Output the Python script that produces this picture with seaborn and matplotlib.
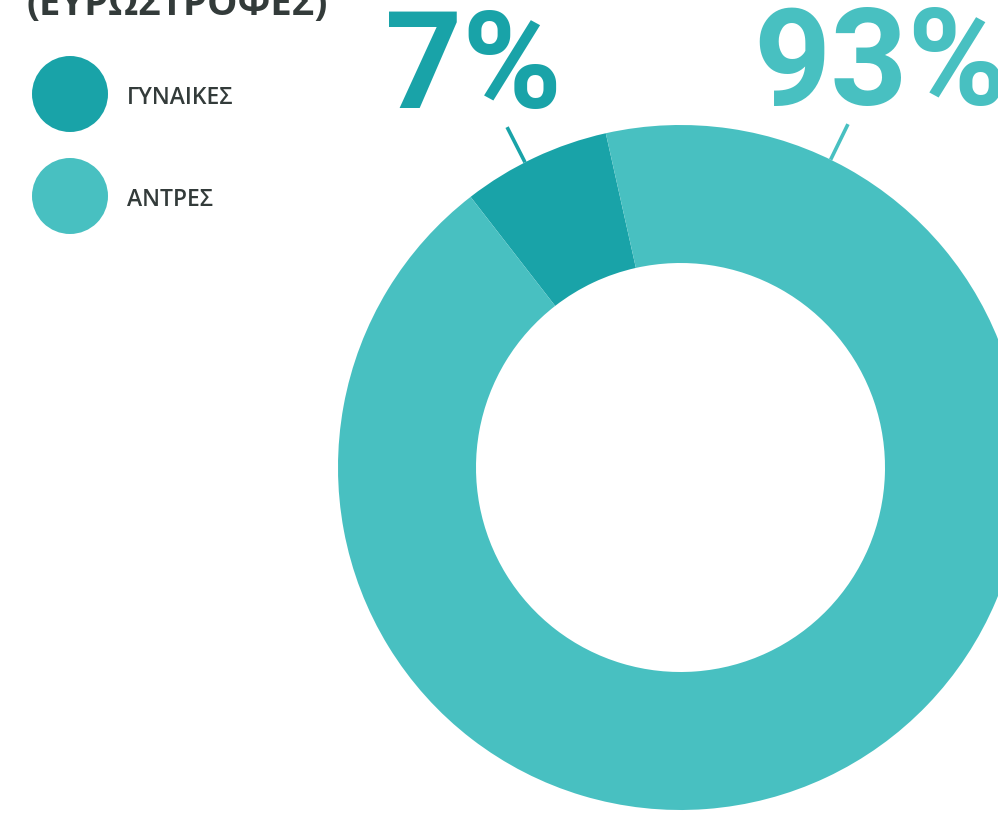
import matplotlib.pyplot as plt
import numpy as np
import seaborn as sns
from matplotlib.patches import Circle

# data
categories = ["ΓΥΝΑΙΚΕΣ", "ΑΝΤΡΕΣ"]
shares = [7, 93]
value_labels = ["7%", "93%"]
title = "(ΕΥΡΩΣΤΡΟΦΕΣ)"

# styling
colors = sns.color_palette(["#19A3A8", "#48C0C1"])
text_color = "#333B3A"
label_angles = [117, 64]  # where the leader lines sit (degrees)

sns.set_theme(style="white")
plt.rcParams["font.family"] = ["Open Sans", "DejaVu Sans"]

W, H = 998, 813
fig = plt.figure(figsize=(W / 100, H / 100), dpi=100)
ax = fig.add_axes([0, 0, 1, 1])

# work in pixel units so the donut lands where it does in the reference
cx, cy = 680.5, H - 467.5
r_out, r_in = 342.5, 204.5

ax.pie(
    shares,
    colors=colors,
    startangle=102.6,
    counterclock=True,
    radius=r_out,
    center=(cx, cy),
    wedgeprops=dict(width=r_out - r_in, linewidth=0),
)
ax.set_xlim(0, W)
ax.set_ylim(0, H)
ax.set_aspect("auto")
ax.axis("off")

# leader lines + big percentage labels
for ang, lab, col in zip(label_angles, value_labels, colors):
    t = np.deg2rad(ang)
    ux, uy = np.cos(t), np.sin(t)
    ax.plot([cx + r_out * ux, cx + 382 * ux], [cy + r_out * uy, cy + 382 * uy],
            color=col, lw=2.6, solid_capstyle="butt", clip_on=False)
    ax.text(cx + 455 * ux, cy + 455 * uy - 9, lab, color=col, ha="center",
            va="center", fontsize=97, fontweight="bold", family="Roboto",
            clip_on=False)

# legend drawn by hand: big dots with labels
for i, (cat, col) in enumerate(zip(categories, colors)):
    y = H - 94 - i * 102
    ax.add_patch(Circle((70, y), 38, color=col, lw=0))
    ax.text(127, y - 10, cat, color=text_color, fontsize=16.5, va="baseline",
            ha="left", fontweight="semibold")

# title, cut off by the top edge like in the reference
fig.text(26 / W, 1 - 15 / H, title, color=text_color, fontsize=27.5,
         fontweight="bold", ha="left", va="baseline")

fig.savefig("out.png", dpi=100)
